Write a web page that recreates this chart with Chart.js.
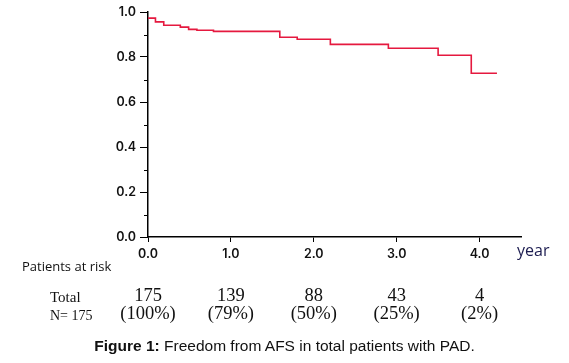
<!DOCTYPE html>
<html>
<head>
<meta charset="UTF-8">
<script src="https://cdn.jsdelivr.net/npm/chart.js"></script>
<style>
  body { margin: 0; background: #fff; }
  #wrap { position: relative; width: 569px; height: 363px; }
  canvas { position: absolute; left: 0; top: 0; }
  #caption {
    position: absolute; left: 0; top: 337px; width: 569px;
    text-align: center; font: 15.5px "Liberation Sans", Arial, sans-serif; color: #111;
  }
</style>
</head>
<body>
<div id="wrap">
  <canvas id="km" width="569" height="363"></canvas>
  <div id="caption"><b>Figure 1:</b> Freedom from AFS in total patients with PAD.</div>
</div>

<script>
  // Kaplan-Meier curve (years, survival)
  const times = [0, 0.09, 0.19, 0.39, 0.49, 0.59, 0.79, 1.59, 1.80, 2.20, 2.90, 3.50, 3.90, 4.21];
  const survival = [0.973, 0.956, 0.941, 0.933, 0.923, 0.919, 0.914, 0.888, 0.879, 0.856, 0.839, 0.808, 0.728, 0.728];

  // Patients at risk
  const riskYears = [0, 1, 2, 3, 4];
  const riskCounts = ['175', '139', '88', '43', '4'];
  const riskPercents = ['(100%)', '(79%)', '(50%)', '(25%)', '(2%)'];

  const points = times.map((t, i) => ({ x: t, y: survival[i] }));

  // minor ticks on y and the risk table under the x axis
  const extras = {
    id: 'extras',
    afterDraw(chart) {
      const ctx = chart.ctx;
      const x = chart.scales.x;
      const y = chart.scales.y;
      ctx.save();

      ctx.strokeStyle = '#000';
      ctx.lineWidth = 1;
      [0.1, 0.3, 0.5, 0.7, 0.9].forEach(v => {
        const py = Math.round(y.getPixelForValue(v)) + 0.5;
        ctx.beginPath();
        ctx.moveTo(x.left - 4, py);
        ctx.lineTo(x.left, py);
        ctx.stroke();
      });

      ctx.fillStyle = '#1c1c50';
      ctx.font = '16px "Open Sans", sans-serif';
      ctx.textBaseline = 'middle';
      ctx.textAlign = 'left';
      ctx.fillText('year', 517, 251);

      ctx.fillStyle = '#111';
      ctx.font = '13px "Open Sans", sans-serif';
      ctx.fillText('Patients at risk', 22, 267);

      ctx.font = '15px "Liberation Serif", serif';
      ctx.fillText('Total', 50, 298);
      ctx.font = '14px "Liberation Serif", serif';
      ctx.fillText('N= 175', 50, 316);

      ctx.font = '18.5px "Liberation Serif", serif';
      ctx.textAlign = 'center';
      riskYears.forEach((yr, i) => {
        const px = x.getPixelForValue(yr);
        ctx.fillText(riskCounts[i], px, 296);
        ctx.fillText(riskPercents[i], px, 314);
      });
      ctx.restore();
    }
  };

  const tickFont = { family: 'Inter, "DejaVu Sans", sans-serif', size: 12.5, weight: '600' };

  new Chart(document.getElementById('km'), {
    type: 'line',
    data: {
      datasets: [{
        data: points,
        stepped: true,
        borderColor: '#e5193f',
        borderWidth: 1.6,
        pointRadius: 0,
        fill: false
      }]
    },
    options: {
      responsive: false,
      animation: false,
      layout: { padding: { left: 0, top: 12, right: 48, bottom: 0 } },
      plugins: { legend: { display: false }, tooltip: { enabled: false } },
      scales: {
        x: {
          type: 'linear',
          min: 0,
          max: 4.5,
          afterFit(scale) { scale.height = 126; },
          border: { color: '#000', width: 1.5 },
          grid: { drawOnChartArea: false, tickLength: 5, color: '#000' },
          ticks: {
            stepSize: 1,
            includeBounds: false,
            padding: 5,
            color: '#111',
            font: tickFont,
            callback: v => v.toFixed(1)
          }
        },
        y: {
          min: 0,
          max: 1,
          afterFit(scale) { scale.width = 148; },
          border: { color: '#000', width: 1.5 },
          grid: {
            drawOnChartArea: false,
            tickLength: 8,
            color: ctx => (Math.round(ctx.tick.value * 10) % 2 === 0 ? '#000' : 'rgba(0,0,0,0)')
          },
          ticks: {
            stepSize: 0.1,
            padding: 4,
            color: '#111',
            font: tickFont,
            callback: v => (Math.round(v * 10) % 2 === 0 ? v.toFixed(1) : '')
          }
        }
      }
    },
    plugins: [extras]
  });
</script>
</body>
</html>
